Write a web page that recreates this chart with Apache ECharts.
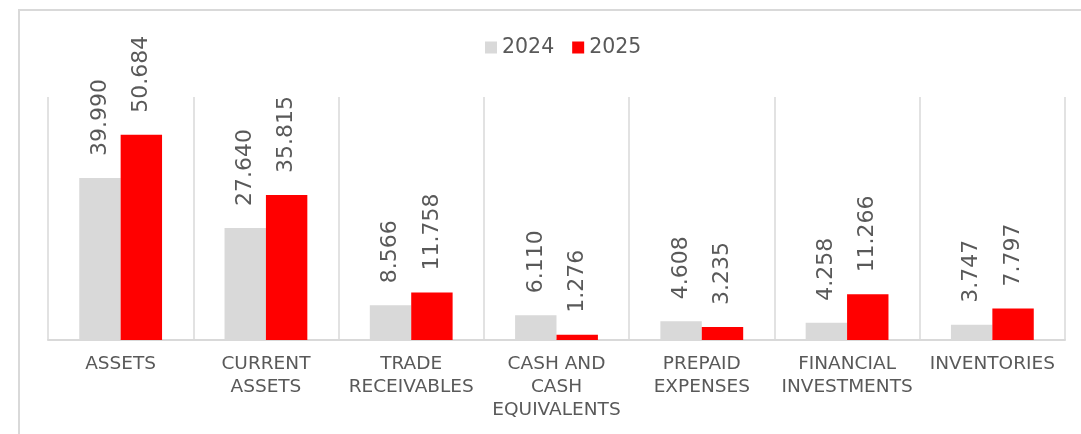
<!DOCTYPE html>
<html>
<head>
<meta charset="utf-8">
<script src="https://cdn.jsdelivr.net/npm/echarts@6/dist/echarts.min.js"></script>
<style>
  html, body { margin: 0; padding: 0; background: #ffffff; }
  #chart { width: 1081px; height: 434px; }
</style>
</head>
<body>
<div id="chart"></div>
<script>
// Balance sheet items, values in thousands
const categories = [
  'ASSETS',
  'CURRENT\nASSETS',
  'TRADE\nRECEIVABLES',
  'CASH AND\nCASH\nEQUIVALENTS',
  'PREPAID\nEXPENSES',
  'FINANCIAL\nINVESTMENTS',
  'INVENTORIES'
];
const seriesNames = ['2024', '2025'];
const values2024 = [39990, 27640, 8566, 6110, 4608, 4258, 3747];
const values2025 = [50684, 35815, 11758, 1276, 3235, 11266, 7797];

const FONT = 'DejaVu Sans';
const TEXT = '#595959';
const GRID_GREY = '#d9d9d9';

// Thousands separated with a dot, e.g. 50684 -> "50.684"
function fmt(v) {
  return String(v).replace(/\B(?=(\d{3})+(?!\d))/g, '.');
}

const chart = echarts.init(document.getElementById('chart'), null, { renderer: 'canvas' });

const barLabel = {
  show: true,
  position: 'top',
  rotate: 90,
  align: 'left',
  verticalAlign: 'middle',
  distance: 22,
  color: TEXT,
  fontFamily: FONT,
  fontSize: 22,
  formatter: p => fmt(p.value)
};

chart.setOption({
  animation: false,
  backgroundColor: '#ffffff',
  graphic: [{
    type: 'rect',
    shape: { x: 19, y: 10, width: 1200, height: 600 },
    style: { fill: 'none', stroke: GRID_GREY, lineWidth: 2 },
    silent: true,
    z: -1
  }],
  legend: {
    data: seriesNames,
    left: 485,
    top: 37,
    padding: 0,
    itemWidth: 12,
    itemHeight: 12,
    itemGap: 18,
    icon: 'rect',
    textStyle: { color: TEXT, fontFamily: FONT, fontSize: 20.5 }
  },
  grid: { left: 48, right: 16, top: 97, bottom: 94, containLabel: false },
  xAxis: {
    type: 'category',
    data: categories,
    axisLine: { show: true, lineStyle: { color: GRID_GREY, width: 2 } },
    axisTick: { show: false },
    splitLine: { show: true, lineStyle: { color: GRID_GREY, width: 1.5 } },
    axisLabel: {
      interval: 0,
      margin: 13,
      color: TEXT,
      fontFamily: FONT,
      fontSize: 18.5,
      lineHeight: 23,
      hideOverlap: false
    }
  },
  yAxis: {
    type: 'value',
    min: 0,
    max: 60000,
    interval: 10000,
    show: false,
    splitLine: { show: false }
  },
  series: [
    {
      name: seriesNames[0],
      type: 'bar',
      data: values2024,
      barGap: 0,
      barCategoryGap: '43%',
      itemStyle: { color: '#d9d9d9' },
      label: barLabel
    },
    {
      name: seriesNames[1],
      type: 'bar',
      data: values2025,
      barGap: 0,
      barCategoryGap: '43%',
      itemStyle: { color: '#ff0000' },
      label: barLabel
    }
  ]
});
</script>
</body>
</html>
